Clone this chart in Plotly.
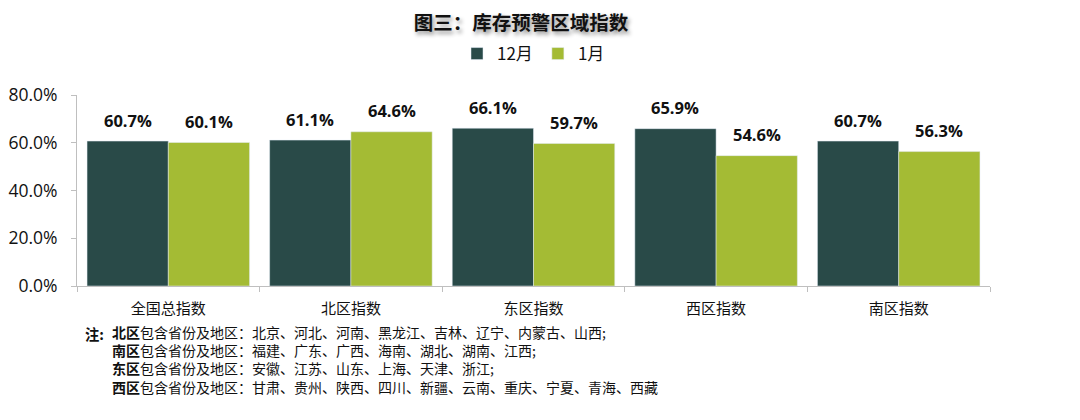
import plotly.graph_objects as go

categories = ["全国总指数", "北区指数", "东区指数", "西区指数", "南区指数"]
dec_values = [60.7, 61.1, 66.1, 65.9, 60.7]
jan_values = [60.1, 64.6, 59.7, 54.6, 56.3]
series_names = ["12月", "1月"]
y_ticks = [0, 20, 40, 60, 80]
y_tick_labels = ["0.0%", "20.0%", "40.0%", "60.0%", "80.0%"]
title_text = "图三：库存预警区域指数"
note_lines = [
    "<b>北区</b>包含省份及地区：北京、河北、河南、黑龙江、吉林、辽宁、内蒙古、山西;",
    "<b>南区</b>包含省份及地区：福建、广东、广西、海南、湖北、湖南、江西;",
    "<b>东区</b>包含省份及地区：安徽、江苏、山东、上海、天津、浙江;",
    "<b>西区</b>包含省份及地区：甘肃、贵州、陕西、四川、新疆、云南、重庆、宁夏、青海、西藏",
]

DARK = "#294A48"
LIGHT = "#A4BB34"
CJK = "Noto Sans CJK SC"
NUM = "Open Sans"

OFF = 8  # page body margin
W, H = 1080, 420
ml, mr, mt, mb = 69, 98, 87, 142
pw, ph = W - ml - mr, H - mt - mb

fig = go.Figure()
fig.add_trace(go.Bar(name=series_names[0], x=categories, y=dec_values, marker_color=DARK))
fig.add_trace(go.Bar(name=series_names[1], x=categories, y=jan_values, marker_color=LIGHT))

annotations = []
half = pw / len(categories) * (1 - 0.11) / 4
for vals, sh in ((dec_values, -half), (jan_values, half)):
    for c, v in zip(categories, vals):
        annotations.append(dict(
            x=c, y=v, xref="x", yref="y", text=f"<b>{v:.1f}%</b>",
            showarrow=False, xshift=sh, yshift=21,
            font=dict(family=NUM, size=16.5, color="#111"),
        ))


def px_to_paper(px, py):
    return (px - OFF - ml) / pw, (H - mb - (py - OFF)) / ph


nx, ny = px_to_paper(83, 333)
annotations.append(dict(
    x=nx, y=ny, xref="paper", yref="paper", text="<b>注:</b>", showarrow=False,
    xanchor="left", yanchor="middle", font=dict(family=CJK, size=14.3, color="#111"),
))
lx, ly = px_to_paper(110, 320)
annotations.append(dict(
    x=lx, y=ly, xref="paper", yref="paper", text="<br>".join(note_lines), showarrow=False,
    xanchor="left", yanchor="top", align="left",
    font=dict(family=CJK, size=14, color="#111"),
))

fig.update_layout(
    width=W, height=H,
    margin=dict(l=ml, r=mr, t=mt, b=mb),
    barmode="group", bargap=0.11, bargroupgap=0,
    plot_bgcolor="white", paper_bgcolor="white",
    title=dict(
        text=f"<b>{title_text}</b>", x=(521 - OFF) / W, xref="container", xanchor="center",
        y=1 - (23 - OFF) / H, yref="container", yanchor="middle",
        font=dict(family=CJK, size=19.5, color="#111", shadow="2px 3px 4px rgba(0,0,0,0.45)"),
    ),
    legend=dict(
        orientation="h", x=0.5, xanchor="center", y=1 + 41 / ph, yanchor="middle",
        font=dict(family=CJK, size=17, color="#111"), traceorder="normal",
        itemwidth=30,
    ),
    annotations=annotations,
    xaxis=dict(
        showline=True, linecolor="#BFBFBF", linewidth=1,
        ticks="outside", tickson="boundaries", ticklen=5, tickcolor="#BFBFBF",
        tickfont=dict(family=CJK, size=15, color="#111"),
        ticklabelstandoff=9, automargin=False,
        showgrid=False,
    ),
    yaxis=dict(
        range=[0, 80], tickvals=y_ticks, ticktext=y_tick_labels,
        showline=True, linecolor="#BFBFBF", linewidth=1,
        ticks="outside", ticklen=5, tickcolor="#BFBFBF",
        tickfont=dict(family=NUM, size=17.5, color="#111"),
        ticklabelstandoff=10, automargin=False,
        showgrid=False, zeroline=False,
    ),
)

fig.write_html("out.html")
